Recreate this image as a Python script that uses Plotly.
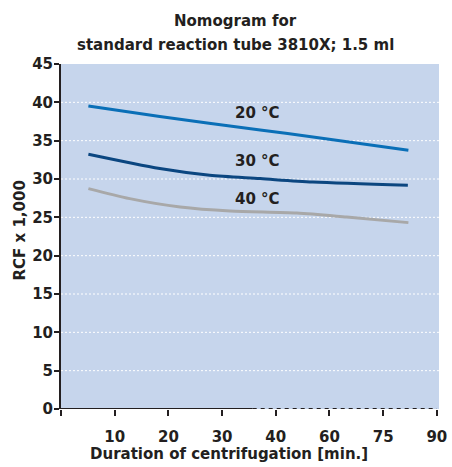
import plotly.graph_objects as go

# ---- data ----
x_tick_labels = ["10", "20", "30", "40", "60", "75", "90"]
x_tick_pos = [1, 2, 3, 4, 5, 6, 7]
y_ticks = [0, 5, 10, 15, 20, 25, 30, 35, 40, 45]
grid_values = [5, 10, 15, 20, 25, 30, 35, 40]

x_20 = [0.51, 1.84, 3.71, 4.76, 6.47]
y_20 = [39.53, 38.15, 36.4, 35.42, 33.75]

x_30 = [0.51, 1.84, 2.77, 3.71, 4.69, 6.46]
y_30 = [33.22, 31.36, 30.48, 30.05, 29.6, 29.18]

x_40 = [0.51, 1.28, 2.22, 3.15, 4.39, 5.32, 6.47]
y_40 = [28.75, 27.44, 26.34, 25.82, 25.56, 25.04, 24.31]

series_labels = ["20 °C", "30 °C", "40 °C"]
label_x = [3.66, 3.66, 3.66]
label_y = [38.6, 32.35, 27.35]

title_lines = ["Nomogram for", "standard reaction tube 3810X; 1.5 ml"]
x_title = "Duration of centrifugation [min.]"
y_title = "RCF x 1,000"

solid_axis_end = 3.57

# ---- style ----
W, H = 452, 467
L, R, T, B = 61, 13, 64, 58
FONT = "DejaVu Sans"
TXT = "#231f20"
BG = "#c6d5ec"
colors = ["#0a6fb7", "#0b4680", "#a8a8a8"]
bold = dict(family=FONT, size=15, color=TXT, weight="bold")

fig = go.Figure()
for xs, ys, c, name in zip([x_20, x_30, x_40], [y_20, y_30, y_40], colors, series_labels):
    fig.add_trace(go.Scatter(x=xs, y=ys, mode="lines", name=name,
                             line=dict(color=c, width=3, shape="spline", smoothing=0.8),
                             showlegend=False, hoverinfo="skip"))

annotations = []
for lx, ly, t in zip(label_x, label_y, series_labels):
    annotations.append(dict(x=lx, y=ly, xref="x", yref="y", text=t, showarrow=False,
                            xanchor="center", yanchor="middle", font=bold))

pw = W - L - R
ph = H - T - B
def px_x(px):
    return (px - L) / pw
def px_y(py):
    return (H - B - py) / ph

def ann(px, py, text, angle=0):
    return dict(x=px_x(px), y=px_y(py), xref="paper", yref="paper", text=text,
                showarrow=False, xanchor="center", yanchor="middle", textangle=angle,
                font=bold)

annotations.append(ann(235.5, 21, title_lines[0]))
annotations.append(ann(235.5, 45, title_lines[1]))
annotations.append(ann(229, 454, x_title))
annotations.append(ann(19.5, 231, y_title, -90))

shapes = []
for g in grid_values:
    shapes.append(dict(type="line", xref="paper", yref="y", x0=0, x1=1, y0=g, y1=g,
                       line=dict(color="white", width=1, dash="2px,2px"), layer="below"))
shapes.append(dict(type="line", xref="x", yref="y", x0=0, x1=solid_axis_end, y0=0, y1=0,
                   line=dict(color=TXT, width=2), layer="above"))
shapes.append(dict(type="line", xref="x", yref="y", x0=solid_axis_end, x1=7, y0=0, y1=0,
                   line=dict(color=TXT, width=2, dash="4px,4px"), layer="above"))

fig.update_layout(
    width=W, height=H,
    margin=dict(l=L, r=R, t=T, b=B, pad=0, autoexpand=False),
    paper_bgcolor="white", plot_bgcolor=BG,
    font=bold,
    annotations=annotations, shapes=shapes,
    xaxis=dict(range=[0, 7.04], tickvals=[0] + x_tick_pos, ticktext=[""] + x_tick_labels,
               showgrid=False, zeroline=False, showline=False, automargin=False,
               ticks="outside", ticklen=6, tickwidth=1.5, tickcolor=TXT,
               ticklabelstandoff=8, tickfont=bold, fixedrange=True),
    yaxis=dict(range=[0, 45], tickvals=y_ticks, showgrid=False, zeroline=False,
               showline=True, linecolor=TXT, linewidth=2, automargin=False,
               ticks="outside", ticklen=5, tickwidth=1.5, tickcolor=TXT,
               ticklabelstandoff=-2, tickfont=bold, fixedrange=True),
)

fig.write_html("out.html")
